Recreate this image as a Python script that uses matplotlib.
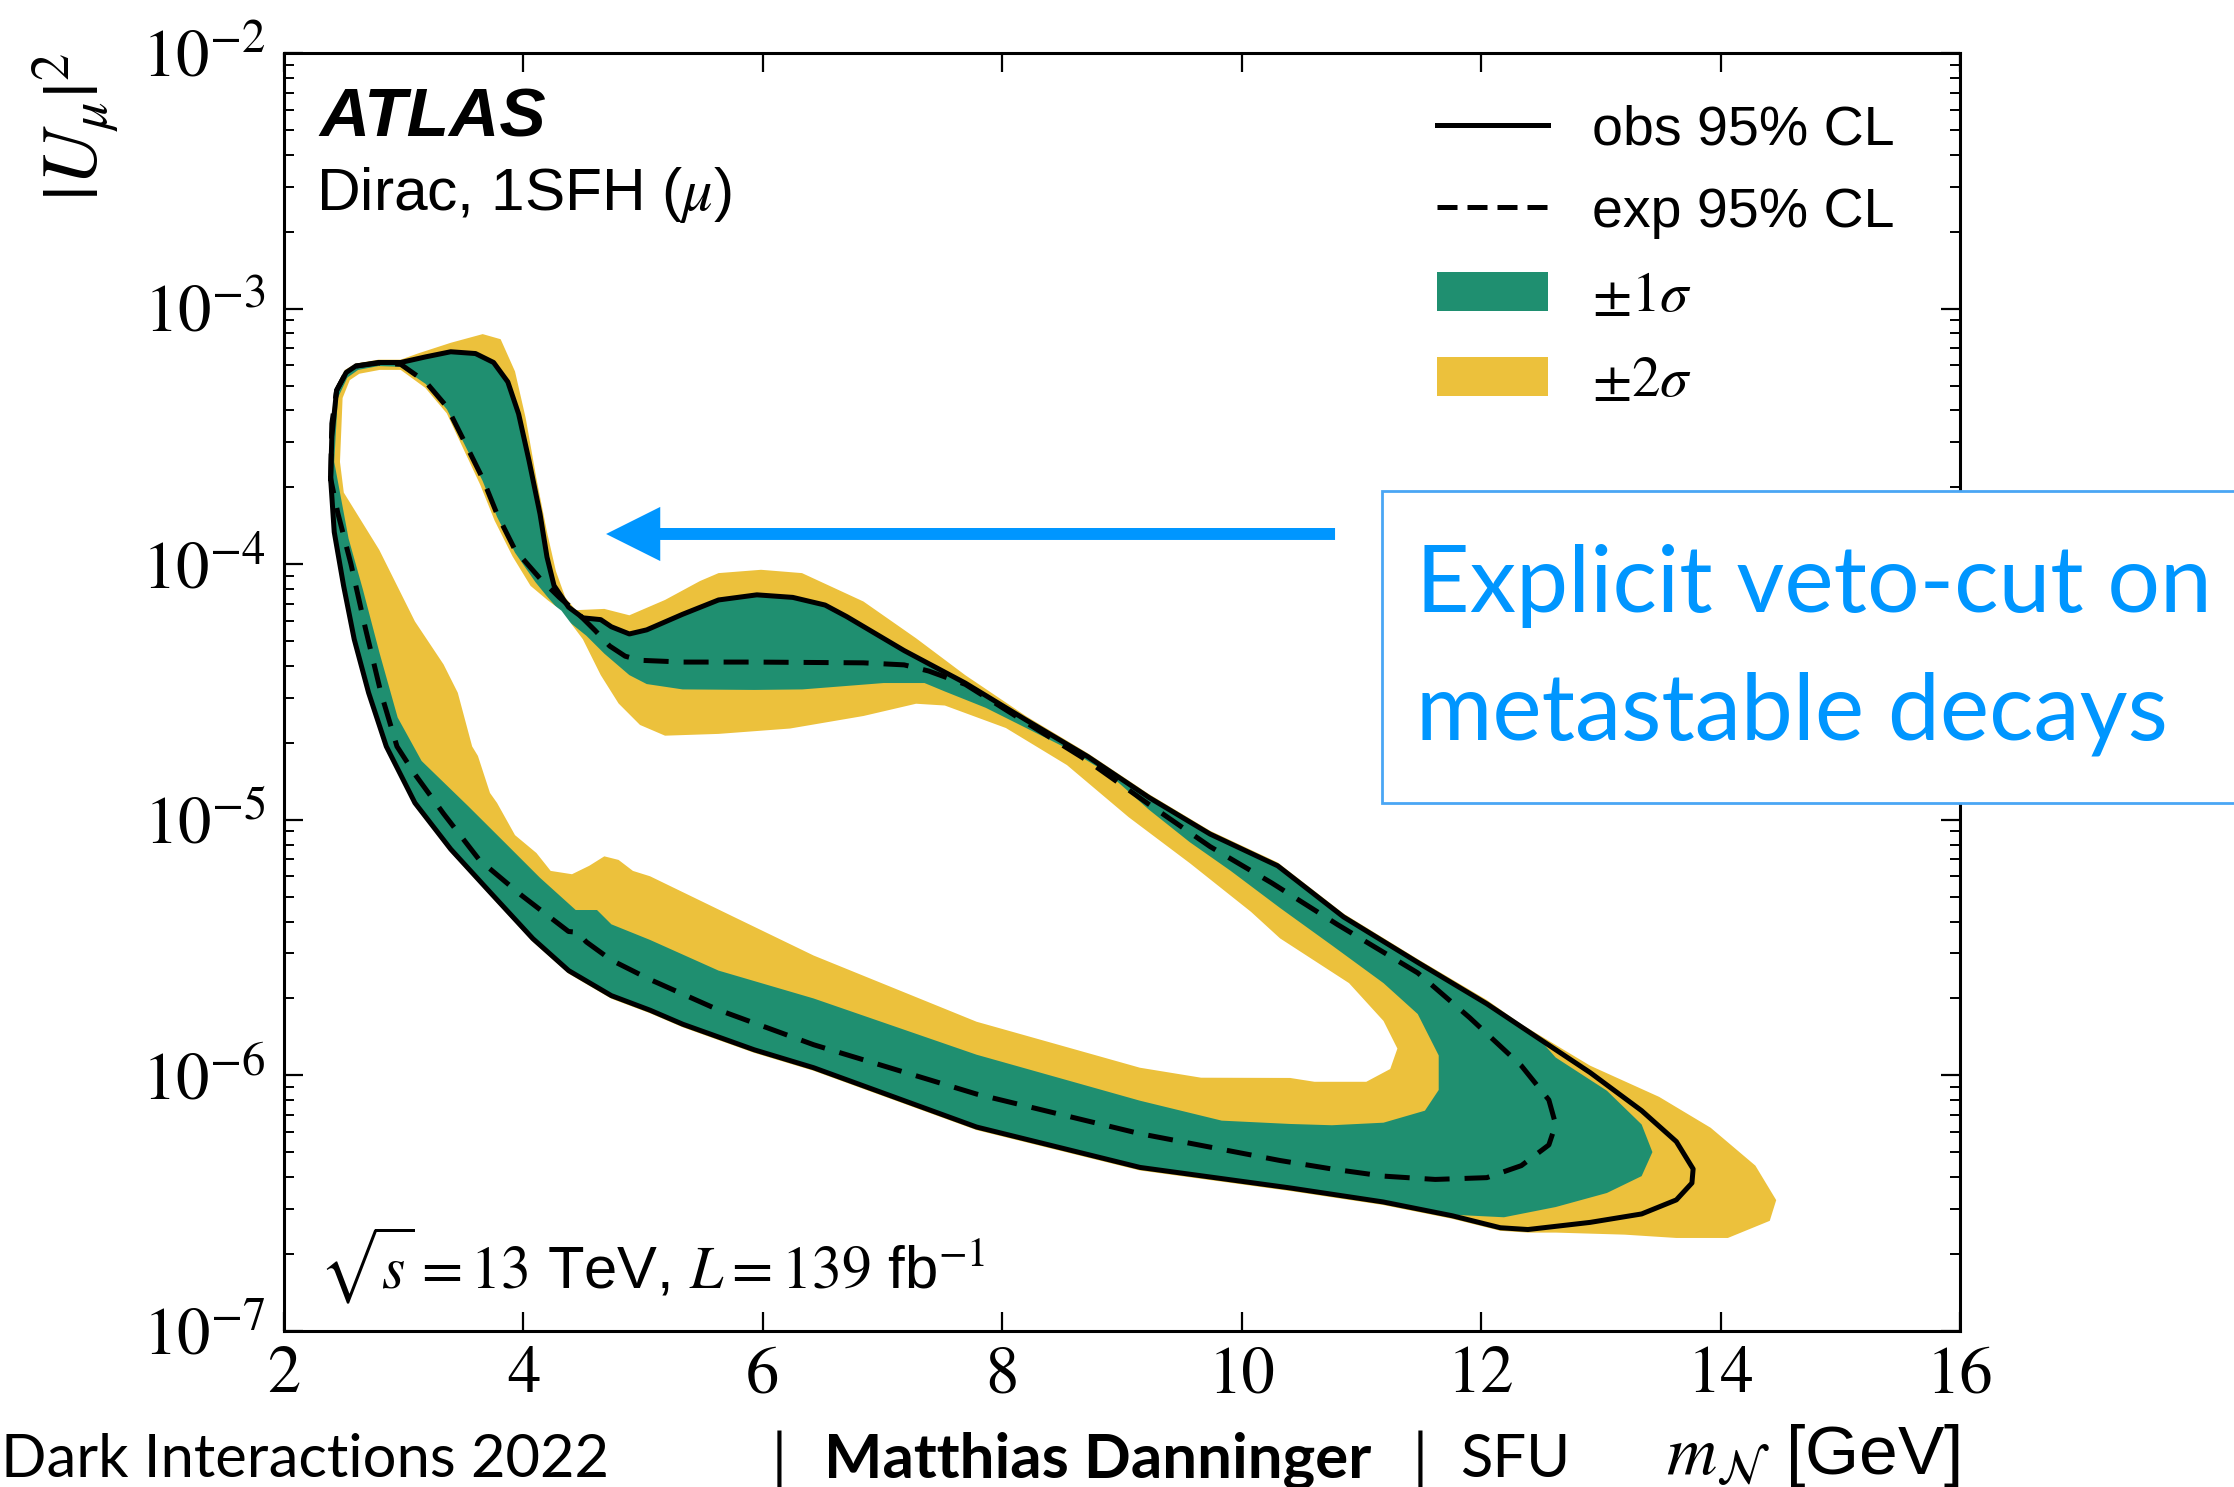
import matplotlib
matplotlib.use("Agg")
import matplotlib.pyplot as plt
import numpy as np
from matplotlib.lines import Line2D
from matplotlib.patches import Patch, Rectangle
from matplotlib.ticker import FuncFormatter, LogLocator, NullLocator

plt.rcParams["mathtext.fontset"] = "stix"
plt.rcParams["font.family"] = "STIXGeneral"

GREEN = "#1f8f70"
YELLOW = "#ecc13c"
BLUE = "#0096ff"
SANS = "Liberation Sans"
SLIDE = "Lato"

# Exclusion contours: heavy-neutrino mass [GeV] and log10 |U_mu|^2, traced as closed loops
OBS_MASS = [2.39, 2.40, 2.44, 2.52, 2.60, 2.79, 2.975, 3.184, 3.393, 3.60, 3.751, 3.87, 3.96, 4.047,
            4.139, 4.197, 4.256, 4.377, 4.497, 4.646, 4.735, 4.885, 5.03, 5.33, 5.63, 5.95, 6.25, 6.52,
            6.70, 7.18, 7.69, 8.20, 8.715, 9.226, 9.736, 10.30, 10.85, 11.47, 12.047, 12.479, 12.91,
            13.34, 13.63, 13.77, 13.76, 13.63, 13.34, 12.91, 12.39, 12.16, 11.757, 11.18, 10.40, 9.15,
            7.785, 6.424, 5.929, 5.332, 5.058, 4.735, 4.378, 4.079, 3.721, 3.393, 3.094, 2.855, 2.707,
            2.587, 2.498, 2.42]
OBS_LOG = [-3.665, -3.50, -3.32, -3.25, -3.225, -3.211, -3.211, -3.189, -3.169, -3.176, -3.211, -3.287,
           -3.412, -3.595, -3.804, -3.972, -4.084, -4.168, -4.21, -4.217, -4.245, -4.273, -4.257, -4.196,
           -4.14, -4.12, -4.13, -4.16, -4.205, -4.338, -4.465, -4.61, -4.753, -4.913, -5.056, -5.18,
           -5.38, -5.558, -5.72, -5.855, -5.989, -6.138, -6.259, -6.366, -6.421, -6.487, -6.542, -6.575,
           -6.603, -6.596, -6.549, -6.495, -6.44, -6.36, -6.202, -5.97, -5.90, -5.80, -5.745, -5.688,
           -5.59, -5.465, -5.283, -5.115, -4.934, -4.713, -4.503, -4.294, -4.084, -3.874]

EXP_MASS = [2.39, 2.40, 2.44, 2.52, 2.60, 2.79, 2.975, 3.184, 3.362, 3.512, 3.66, 3.78, 3.93, 4.139,
            4.30, 4.45, 4.60, 4.72, 4.85, 4.974, 5.33, 5.929, 6.84, 7.18, 7.385, 7.69, 8.20, 8.715,
            9.226, 9.736, 10.25, 10.80, 11.47, 11.903, 12.335, 12.565, 12.622, 12.565, 12.335, 12.047,
            11.616, 11.184, 10.752, 10.32, 9.15, 7.785, 6.424, 5.63, 5.058, 4.735, 4.526, 4.45, 4.377,
            3.988, 3.632, 3.333, 3.094, 2.944, 2.81, 2.68, 2.56, 2.45]
EXP_LOG = [-3.665, -3.45, -3.32, -3.25, -3.225, -3.213, -3.218, -3.287, -3.385, -3.525, -3.665, -3.804,
           -3.944, -4.056, -4.13, -4.19, -4.26, -4.32, -4.36, -4.376, -4.383, -4.383, -4.386, -4.394,
           -4.418, -4.47, -4.62, -4.77, -4.94, -5.105, -5.247, -5.41, -5.599, -5.774, -5.962, -6.096,
           -6.192, -6.272, -6.353, -6.40, -6.407, -6.394, -6.366, -6.333, -6.228, -6.073, -5.88, -5.744,
           -5.625, -5.549, -5.478, -5.44, -5.437, -5.297, -5.157, -4.976, -4.822, -4.713, -4.503, -4.25,
           -4.0, -3.80]

# +-2 sigma band: outer and inner edges
OUT2_MASS = [2.38, 2.39, 2.43, 2.51, 2.60, 2.79, 2.975, 3.124, 3.393, 3.66, 3.81, 3.93, 4.019, 4.109,
             4.197, 4.272, 4.35, 4.437, 4.676, 4.885, 5.183, 5.475, 5.63, 5.985, 6.327, 6.84, 7.28, 7.69,
             8.20, 8.715, 9.226, 9.736, 10.30, 10.85, 11.47, 12.047, 12.335, 12.91, 13.486, 13.917,
             14.29, 14.464, 14.41, 14.06, 13.63, 13.198, 12.622, 12.39, 12.16, 11.757, 11.18, 10.40,
             9.15, 7.785, 6.424, 5.929, 5.332, 5.058, 4.735, 4.378, 4.079, 3.721, 3.393, 3.094, 2.855,
             2.707, 2.587, 2.49, 2.41]
OUT2_LOG = [-3.665, -3.45, -3.31, -3.24, -3.215, -3.20, -3.20, -3.175, -3.134, -3.10, -3.12, -3.246,
            -3.428, -3.665, -3.874, -4.028, -4.13, -4.18, -4.175, -4.20, -4.14, -4.066, -4.035, -4.022,
            -4.035, -4.146, -4.29, -4.434, -4.595, -4.74, -4.90, -5.043, -5.167, -5.367, -5.545, -5.705,
            -5.80, -5.962, -6.084, -6.205, -6.353, -6.488, -6.569, -6.636, -6.636, -6.623, -6.615,
            -6.615, -6.608, -6.561, -6.507, -6.452, -6.372, -6.214, -5.982, -5.912, -5.812, -5.757,
            -5.70, -5.602, -5.477, -5.295, -5.127, -4.946, -4.725, -4.515, -4.304, -4.09, -3.874]

IN2_MASS = [2.468, 2.49, 2.55, 2.63, 2.80, 2.975, 3.18, 3.36, 3.50, 3.64, 3.76, 3.91, 4.06, 4.20,
            4.318, 4.497, 4.646, 4.795, 4.974, 5.183, 5.63, 6.227, 6.84, 7.28, 7.52, 8.03, 8.54, 9.056,
            9.567, 10.077, 10.32, 10.896, 11.184, 11.30, 11.24, 11.04, 10.608, 10.404, 9.66, 9.15, 7.785,
            6.424, 5.74, 5.058, 4.915, 4.795, 4.676, 4.55, 4.406, 4.228, 4.109, 3.93, 3.78, 3.721, 3.62,
            3.572, 3.452, 3.333, 3.094, 2.796, 2.50]
IN2_LOG = [-3.60, -3.35, -3.28, -3.255, -3.24, -3.24, -3.31, -3.41, -3.55, -3.69, -3.83, -3.97, -4.085,
           -4.14, -4.182, -4.294, -4.434, -4.545, -4.629, -4.671, -4.664, -4.643, -4.594, -4.546, -4.553,
           -4.641, -4.786, -4.99, -5.17, -5.36, -5.464, -5.639, -5.787, -5.895, -5.975, -6.025, -6.025,
           -6.01, -6.009, -5.97, -5.79, -5.531, -5.376, -5.221, -5.2, -5.157, -5.143, -5.18, -5.213,
           -5.2, -5.13, -5.06, -4.934, -4.895, -4.75, -4.713, -4.503, -4.392, -4.224, -3.944, -3.72]

# +-1 sigma band: outer and inner edges
OUT1_MASS = [2.39, 2.40, 2.44, 2.52, 2.60, 2.79, 2.975, 3.184, 3.393, 3.60, 3.751, 3.87, 3.96, 4.047,
             4.139, 4.197, 4.256, 4.377, 4.497, 4.646, 4.735, 4.885, 5.03, 5.33, 5.63, 5.95, 6.25, 6.52,
             6.70, 7.18, 7.69, 8.20, 8.715, 9.226, 9.736, 10.30, 10.85, 11.47, 12.047, 12.479, 12.622,
             13.05, 13.34, 13.43, 13.34, 13.05, 12.622, 12.19, 11.757, 11.18, 10.40, 9.15, 7.785, 6.424,
             5.929, 5.332, 5.058, 4.735, 4.378, 4.079, 3.721, 3.393, 3.094, 2.855, 2.707, 2.587, 2.498,
             2.42]
OUT1_LOG = [-3.665, -3.50, -3.32, -3.25, -3.225, -3.211, -3.211, -3.189, -3.169, -3.176, -3.211, -3.287,
            -3.412, -3.595, -3.804, -3.972, -4.084, -4.168, -4.21, -4.217, -4.245, -4.273, -4.257,
            -4.196, -4.14, -4.12, -4.13, -4.16, -4.205, -4.338, -4.465, -4.61, -4.753, -4.913, -5.056,
            -5.18, -5.38, -5.558, -5.72, -5.855, -5.93, -6.06, -6.192, -6.30, -6.394, -6.46, -6.515,
            -6.555, -6.545, -6.495, -6.44, -6.36, -6.202, -5.97, -5.90, -5.80, -5.745, -5.688, -5.59,
            -5.465, -5.283, -5.115, -4.934, -4.713, -4.503, -4.294, -4.084, -3.874]

IN1_MASS = [2.42, 2.45, 2.53, 2.62, 2.79, 2.975, 3.184, 3.362, 3.512, 3.66, 3.78, 3.93, 4.10, 4.197,
            4.377, 4.526, 4.676, 4.885, 5.03, 5.33, 5.93, 6.33, 7.01, 7.35, 7.52, 7.862, 8.54, 8.88,
            9.226, 9.567, 9.908, 10.32, 10.752, 11.184, 11.47, 11.645, 11.645, 11.53, 11.184, 10.752,
            10.404, 9.833, 9.15, 7.785, 6.424, 5.63, 5.058, 4.735, 4.615, 4.437, 4.139, 3.84, 3.542,
            3.15, 2.95, 2.80, 2.66, 2.54]
IN1_LOG = [-3.60, -3.35, -3.27, -3.24, -3.225, -3.228, -3.295, -3.395, -3.535, -3.675, -3.815, -3.955,
           -4.07, -4.126, -4.224, -4.28, -4.35, -4.434, -4.469, -4.49, -4.492, -4.49, -4.465, -4.465,
           -4.498, -4.562, -4.721, -4.817, -4.961, -5.088, -5.2, -5.345, -5.491, -5.639, -5.76, -5.922,
           -6.057, -6.138, -6.185, -6.195, -6.19, -6.177, -6.099, -5.919, -5.699, -5.59, -5.47, -5.409,
           -5.353, -5.353, -5.227, -5.087, -4.948, -4.77, -4.60, -4.35, -4.10, -3.90]

LEGEND_LABELS = ["obs 95% CL", "exp 95% CL", r"$\pm1\sigma$", r"$\pm2\sigma$"]
X_TICKS = [2, 4, 6, 8, 10, 12, 14, 16]


def loop(mass, logs):
    x = np.append(mass, mass[0])
    y = 10.0 ** np.append(logs, logs[0])
    return x, y


def draw_limits(ax):
    ax.fill(*loop(OUT2_MASS, OUT2_LOG), color=YELLOW, lw=0, zorder=1)
    ax.fill(*loop(OUT1_MASS, OUT1_LOG), color=GREEN, lw=0, zorder=2)
    ax.fill(*loop(IN1_MASS, IN1_LOG), color=YELLOW, lw=0, zorder=3)
    ax.fill(*loop(IN2_MASS, IN2_LOG), color="white", lw=0, zorder=4)
    ax.plot(*loop(EXP_MASS, EXP_LOG), color="black", lw=3.6, dashes=(5, 3), zorder=5)
    ax.plot(*loop(OBS_MASS, OBS_LOG), color="black", lw=3.6, solid_joinstyle="round", zorder=6)


def style_axes(ax):
    ax.set_yscale("log")
    ax.set_xlim(2, 16)
    ax.set_ylim(1e-7, 1e-2)
    ax.set_xticks(X_TICKS)
    ax.xaxis.set_minor_locator(NullLocator())
    ax.yaxis.set_major_locator(LogLocator(base=10, numticks=10))
    ax.yaxis.set_minor_locator(LogLocator(base=10, subs=np.arange(2, 10), numticks=10))
    ax.yaxis.set_major_formatter(FuncFormatter(lambda v, _: rf"$10^{{{int(round(np.log10(v)))}}}$"))
    ax.tick_params(which="both", direction="in", top=True, right=True)
    ax.tick_params(which="major", length=14, width=1.6, labelsize=48)
    ax.tick_params(axis="x", which="major", pad=11)
    ax.tick_params(axis="y", which="major", pad=13)
    ax.tick_params(which="minor", length=7, width=1.4)
    for spine in ax.spines.values():
        spine.set_linewidth(2.2)

    ax.set_xlabel(r"$m_{\mathcal{N}}$ [GeV]", fontsize=50, family=SANS, ha="right", va="baseline")
    ax.xaxis.set_label_coords(1.0, -0.112)
    ax.set_ylabel(r"$|U_{\mu}|^{2}$", fontsize=56, ha="right", va="center")
    ax.yaxis.set_label_coords(-0.124, 1.0)


def add_labels(ax):
    ax.text(0.021, 0.935, "ATLAS", transform=ax.transAxes, family=SANS, fontsize=50,
            fontweight="bold", fontstyle="italic", va="baseline")
    ax.text(0.019, 0.877, r"Dirac, 1SFH ($\mu$)", transform=ax.transAxes, family=SANS,
            fontsize=43.5, va="baseline")
    ax.text(0.021, 0.033, r"$\sqrt{s} = 13$ TeV, $L = 139$ fb$^{-1}$", transform=ax.transAxes,
            family=SANS, fontsize=43, va="baseline")

    handles = [
        Line2D([], [], color="black", lw=3.6),
        Line2D([], [], color="black", lw=3.6, dashes=(4, 2)),
        Patch(facecolor=GREEN, edgecolor="none"),
        Patch(facecolor=YELLOW, edgecolor="none"),
    ]
    leg = ax.legend(handles, LEGEND_LABELS, loc="upper left", bbox_to_anchor=(0.6432, 0.930),
                    bbox_transform=ax.figure.transFigure, frameon=False,
                    prop={"family": SANS, "size": 40}, handlelength=2.0, handleheight=0.7,
                    handletextpad=0.8, labelspacing=0.55, borderpad=0, borderaxespad=0)
    for t in leg.get_texts()[2:]:
        t.set_fontsize(41)


def add_slide_overlay(fig):
    fig.axes[0].annotate("", xy=(0.2713, 0.6409), xycoords="figure fraction",
                         xytext=(0.5976, 0.6409), textcoords="figure fraction",
                         arrowprops=dict(arrowstyle="simple,head_length=39,head_width=39,tail_width=8.6",
                                         mutation_scale=1, color=BLUE, lw=0, shrinkA=0, shrinkB=0))
    box = Rectangle((0.6186, 0.46), 0.45, 0.2098, transform=fig.transFigure, facecolor="white",
                    edgecolor="#4aa6f4", lw=2.0, zorder=10)
    fig.add_artist(box)
    fig.text(0.6338, 0.5884, "Explicit veto-cut on", family=SLIDE, fontsize=67, color=BLUE,
             va="baseline", zorder=11)
    fig.text(0.6338, 0.5024, "metastable decays", family=SLIDE, fontsize=67, color=BLUE,
             va="baseline", zorder=11)

    fig.text(0.0005, 0.0065, "Dark Interactions 2022", family=SLIDE, fontsize=43, va="baseline")
    fig.text(0.3455, 0.0065, "|", family=SLIDE, fontsize=43, va="baseline")
    fig.text(0.3688, 0.0065, "Matthias Danninger", family=SLIDE, fontsize=44.5, fontweight="bold",
             va="baseline")
    fig.text(0.6325, 0.0065, "|", family=SLIDE, fontsize=43, va="baseline")
    fig.text(0.6535, 0.0065, "SFU", family=SLIDE, fontsize=43, va="baseline")


def main() -> None:
    fig = plt.figure(figsize=(22.34, 14.87), dpi=100)
    ax = fig.add_axes([0.1271, 0.1049, 0.7503, 0.8595])
    draw_limits(ax)
    style_axes(ax)
    add_labels(ax)
    add_slide_overlay(fig)
    fig.savefig("out.png", dpi=100, facecolor="white")
    plt.close(fig)


if __name__ == "__main__":
    main()
